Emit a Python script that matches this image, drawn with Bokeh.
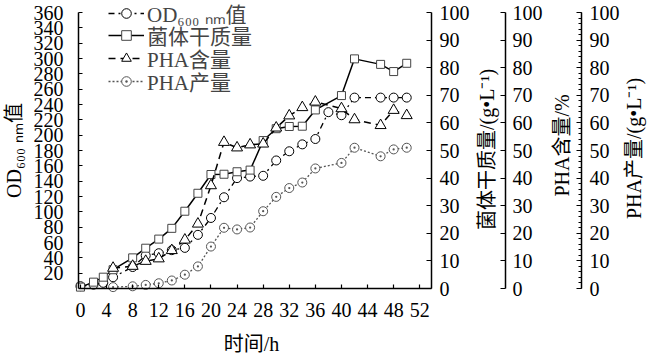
from bokeh.plotting import figure
from bokeh.models import (LinearAxis, Range1d, Legend, LegendItem, FixedTicker,
                          SingleIntervalTicker, Label)
from bokeh.embed import file_html
from bokeh.resources import INLINE

# ---- data ----
t_od = [0, 2, 3.5, 5, 8, 10, 12, 14, 16, 18, 20, 22, 24, 26, 28, 30, 32, 34, 36, 38, 40, 42, 46, 48, 50]
od = [3, 5, 7.4, 14.7, 28, 43, 46, 50, 53, 70, 92, 119, 144, 146, 147, 167, 179, 188, 195, 230, 226, 249, 249,
      249, 249]

t_dcw = [0, 2, 3.5, 5, 8, 10, 12, 14, 16, 18, 20, 22, 24, 26, 28, 30, 32, 34, 36, 40, 42, 46, 48, 50]
dcw = [0.5, 2.3, 4.1, 6.8, 11.1, 14.6, 17.9, 21.8, 28.0, 34.5, 41.3, 41.4, 42.3, 42.9, 53.6, 57.9, 58.7, 58.8,
       64.7, 69.9, 83.2, 81.2, 78.6, 81.6]

t_pha = [5, 8, 10, 12, 14, 16, 18, 20, 22, 24, 26, 28, 30, 32, 34, 36, 40, 42, 46, 48, 50]
pha = [7.4, 8.1, 9.9, 10.8, 13.8, 17.6, 23.4, 37.3, 53.0, 51.0, 52.1, 52.4, 58.2, 62.6, 65.6, 67.6, 65.2, 61.2,
       59.1, 64.6, 62.7]

t_yield = [5, 8, 10, 12, 14, 16, 18, 20, 22, 24, 26, 28, 30, 32, 34, 36, 40, 42, 46, 48, 50]
yld = [0.5, 0.8, 1.3, 1.9, 2.9, 5.0, 8.0, 15.2, 22.0, 21.4, 22.1, 28.0, 33.2, 36.4, 38.4, 43.5, 45.5, 51.0,
       47.9, 50.4, 51.0]

x_ticks = list(range(0, 53, 4))
left_ticks = list(range(20, 361, 20))

series_names = ["OD₆₀₀ ₙₘ值", "菌体干质量", "PHA含量", "PHA产量"]
x_title = "时间/h"
y_title = "OD₆₀₀ ₙₘ值"
r_titles = ["菌体干质量/(g•L⁻¹)", "PHA含量/%", "PHA产量/(g•L⁻¹)"]

FONT = "'Liberation Serif', 'Noto Sans CJK SC'"
FS = "20px"

# geometry: the frame covers the whole page (648 x 358);
# the drawn axes run x = -0.3..53.8 h (page x 78..431) and 0..360 / 0..100 (page y 288..12)
W, H = 648, 358
AX_LEFT_PX = 78
AX_BOTTOM_PX = 288
X0, X1 = -0.3, 53.8
PX_PER_H = 353.0 / (X1 - X0)
PX_PER_OD = 276.0 / 360.0
PX_PER_PCT = 276.0 / 100.0
below = H - AX_BOTTOM_PX
x_start = X0 - AX_LEFT_PX / PX_PER_H
p = figure(width=W, height=H,
           x_range=Range1d(x_start, x_start + W / PX_PER_H),
           y_range=Range1d(-below / PX_PER_OD, AX_BOTTOM_PX / PX_PER_OD),
           output_backend="svg", toolbar_location=None,
           min_border_left=0, min_border_top=0, min_border_bottom=0, min_border_right=0)
p.extra_y_ranges = {k: Range1d(-below / PX_PER_PCT, AX_BOTTOM_PX / PX_PER_PCT) for k in ("dcw", "pha", "yld")}
p.xgrid.visible = False
p.ygrid.visible = False
p.outline_line_color = None
p.background_fill_color = "white"
p.border_fill_color = "white"


def style_axis(ax, tick_in=4):
    ax.axis_line_color = "black"
    ax.axis_line_width = 1.5
    ax.major_tick_in = tick_in
    ax.major_tick_out = 0
    ax.minor_tick_in = 0
    ax.minor_tick_out = 0
    ax.major_tick_line_width = 1.2
    ax.major_label_text_font = FONT
    ax.major_label_text_font_size = FS
    ax.major_label_text_color = "black"


xa = p.xaxis[0]
xa.ticker = FixedTicker(ticks=x_ticks)
xa.bounds = (X0, X1)
xa.fixed_location = 0
style_axis(xa, 4)
xa.major_label_standoff = 14

ya = p.yaxis[0]
ya.ticker = FixedTicker(ticks=left_ticks)
ya.bounds = (0, 360)
ya.fixed_location = X0
style_axis(ya, 4)
ya.major_label_standoff = 15

# three value axes on the right, each at its own place (page x = 431, 505, 581)
axis_px = [431, 505, 581]
for name, minor, lab_so, px in zip(["dcw", "pha", "yld"], [0, 0, 5], [8, 7, 8], axis_px):
    ax = LinearAxis(y_range_name=name, ticker=SingleIntervalTicker(interval=10, num_minor_ticks=minor),
                    bounds=(0, 100), fixed_location=X0 + (px - AX_LEFT_PX) / PX_PER_H)
    style_axis(ax, 5)
    if minor:
        ax.minor_tick_in = 3
    ax.major_label_standoff = lab_so
    p.add_layout(ax, "right")


def add_title(txt, img_x, img_y, angle):
    p.add_layout(Label(x=img_x, y=H - img_y, x_units="screen", y_units="screen", text=txt,
                       angle=angle, angle_units="deg", text_align="center", text_baseline="middle",
                       text_font=FONT, text_font_size=FS, text_color="black"))


# axis titles (vertical ones read bottom-to-top)
add_title(y_title, 13, 150, 90)
for txt, img_x, img_y in zip(r_titles, [486, 561, 633], [149, 145, 148]):
    add_title(txt, img_x, img_y, 90)
add_title(x_title, 251, 343, 0)

# ---- series ----
l_od = p.line(t_od, od, line_color="black", line_width=1.3, line_dash="dashdot")
m_od = p.scatter(t_od, od, marker="circle", size=9, line_color="black", fill_color="white", line_width=1)

l_dcw = p.line(t_dcw, dcw, y_range_name="dcw", line_color="black", line_width=1.5)
m_dcw = p.scatter(t_dcw, dcw, y_range_name="dcw", marker="square", size=8, line_color="#444444",
                  fill_color="white", line_width=1)

l_pha = p.line(t_pha, pha, y_range_name="pha", line_color="black", line_width=1.5, line_dash="7 5")
m_pha = p.scatter(t_pha, pha, y_range_name="pha", marker="triangle", size=11, line_color="black",
                  fill_color="white", line_width=1)

l_y = p.line(t_yield, yld, y_range_name="yld", line_color="#555555", line_width=1.3, line_dash="2 2")
m_y = p.scatter(t_yield, yld, y_range_name="yld", marker="circle_dot", size=9, line_color="#555555",
                fill_color="white", line_width=1)

# one legend per row so that the row pitch matches the reference
row_centers = [16, 38, 61, 84]   # page y of each row centre
ROW_H = 24
for name, rends, cy in zip(series_names, [[l_od, m_od], [l_dcw, m_dcw], [l_pha, m_pha], [l_y, m_y]],
                           row_centers):
    lg = Legend(items=[LegendItem(label=name, renderers=rends)], location=(108, H - cy - ROW_H / 2))
    lg.border_line_color = None
    lg.background_fill_alpha = 0
    lg.padding = 0
    lg.margin = 0
    lg.spacing = 0
    lg.glyph_width = 36
    lg.glyph_height = ROW_H
    lg.label_standoff = 3
    lg.label_text_font = FONT
    lg.label_text_font_size = "21px"
    lg.label_height = ROW_H
    p.add_layout(lg)

open("out.html", "w").write(file_html(p, INLINE))
